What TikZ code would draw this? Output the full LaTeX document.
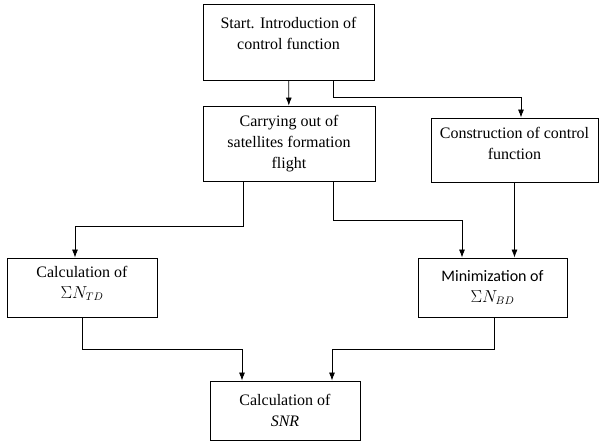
\documentclass[tikz,border=0pt]{standalone}
\usepackage{fontspec}
\setmainfont{Liberation Serif}
\newfontfamily\calibri{Carlito}
\usetikzlibrary{arrows.meta}
\tikzset{
	box/.style={draw, line width=0.8pt, align=center, inner sep=2pt, font=\fontsize{16}{21}\selectfont},
	arr/.style={line width=0.8pt, -{Latex[length=8pt,width=6pt]}}
}

\begin{document}
\begin{tikzpicture}[x=1pt, y=-1pt]
		%%%%% START %%%%%
		\useasboundingbox (0, 0) rectangle (600, 443);
		
		\node[box, minimum width=171, minimum height=76] (start) at (288.5, 42) {Start. Introduction of\\control function\\[-3pt]\mbox{}};
		\node[box, minimum width=172, minimum height=75] (carry) at (289, 143.5) {Carrying out of\\satellites formation\\flight};
		\node[box, minimum width=167, minimum height=64] (constr) at (514.5, 150) {Construction of control\\function\\[-8pt]\mbox{}};
		
		\node[box, minimum width=150, minimum height=59] (calcTD) at (82, 287.5) {Calculation of\\$\Sigma N_{TD}$\\[-10pt]\mbox{}};
		\node[box, minimum width=149, minimum height=59] (minBD) at (492.5, 287.5) {{\calibri Minimization of}\\$\Sigma N_{BD}$};
		\node[box, minimum width=150, minimum height=59] (snr) at (285, 410.5) {Calculation of\\\textit{SNR}};
		
		\draw[arr] (start) -- (carry);
		\draw[arr] ([xshift=44.5]start.south) -- ++(0, 17) -| ([xshift=6.5]constr.north);
		
		\draw[arr] ([xshift=-46]carry.south) -- ++(0, 45) -| ([xshift=-7]calcTD.north);
		\draw[arr] ([xshift=44]carry.south) -- ++(0, 39) -| ([xshift=-30.5]minBD.north);
		\draw[arr] (constr.south) -- (constr.south |- minBD.north);
		
		\draw[arr] (calcTD.south) -- ++(0, 32) -| ([xshift=-43]snr.north);
		\draw[arr] ([xshift=1.5]minBD.south) -- ++(0, 32) -| ([xshift=47]snr.north);
		
		%%%%% END %%%%%
	\end{tikzpicture}
\end{document}
